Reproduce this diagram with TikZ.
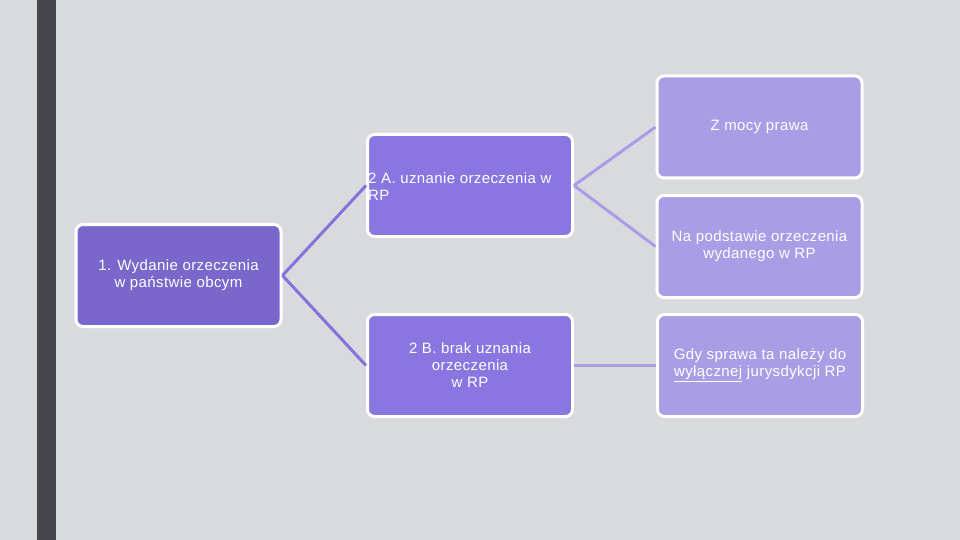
\documentclass[tikz,border=0pt]{standalone}
\usepackage{fontspec}
\setmainfont[LetterSpace=2.7]{Liberation Sans}
\definecolor{bgc}{HTML}{D9DADD}
\definecolor{barc}{HTML}{47464F}
\definecolor{lvla}{HTML}{7A67CB}
\definecolor{lvlb}{HTML}{8A76E0}
\definecolor{lvlc}{HTML}{A99DE6}
\definecolor{linea}{HTML}{8473DC}
\definecolor{lineb}{HTML}{A99DE6}
\tikzset{
  boxfont/.style={font=\fontsize{15}{17}\selectfont},
  box/.style={draw=white, line width=3pt, rounded corners=7pt, minimum width=205pt, minimum height=102pt, inner sep=0pt, text=white, boxfont, align=center},
  boxa/.style={box, fill=lvla},
  boxb/.style={box, fill=lvlb},
  boxc/.style={box, fill=lvlc},
  conna/.style={draw=linea, line width=3pt},
  connb/.style={draw=lineb, line width=3pt},
}
\begin{document}
\begin{tikzpicture}[x=1pt,y=-1pt]
\useasboundingbox (0,0) rectangle (960,540);
\fill[bgc] (0,0) rectangle (960,540);
\fill[barc] (37,0) rectangle (56,540);
\node[boxa] (b1) at (178.5,275.5) {1. Wydanie orzeczenia\\w państwie obcym};
\node[boxb] (b2a) at (470,185.5) {};
\node[text=white, boxfont, align=left, anchor=west, inner sep=0pt] (t2a) at (368,187) {2 A. uznanie orzeczenia w\\RP};
\node[boxb] (b2b) at (470,365.5) {2 B. brak uznania\\orzeczenia\\w RP};
\node[boxc] (c1) at (759.5,127) {Z mocy prawa};
\node[boxc] (c2) at (759.5,246.5) {Na podstawie orzeczenia\\wydanego w RP};
\node[boxc] (c3) at (760,365.5) {Gdy sprawa ta należy do\\\underline{wyłącznej} jurysdykcji RP};
\draw[conna] (b1.east) -- (b2a.west);
\draw[conna] (b1.east) -- (b2b.west);
\draw[connb] (b2a.east) -- (c1.west);
\draw[connb] (b2a.east) -- (c2.west);
\draw[connb] (b2b.east) -- (c3.west);
\end{tikzpicture}
\end{document}
